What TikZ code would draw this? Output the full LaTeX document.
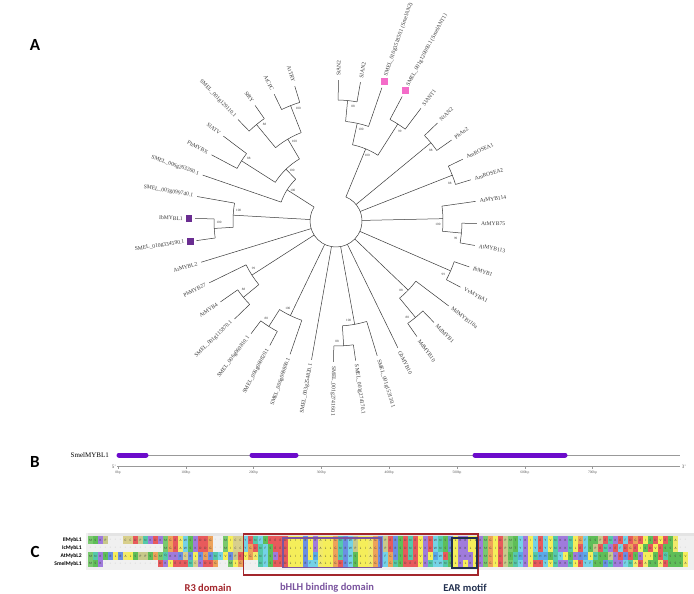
\documentclass[tikz,border=0pt]{standalone}
\usepackage{fontspec}
\setmainfont{Liberation Serif}
\newfontfamily\panelsans{Carlito}
\usepackage{tikz}
\usetikzlibrary{positioning}
\definecolor{TreeInk}{HTML}{3A3A3A}
\definecolor{AnthoPink}{HTML}{F46CC9}
\definecolor{RepPurple}{HTML}{6A2D91}
\definecolor{ExonViolet}{HTML}{6C0BCB}
\definecolor{R3Red}{HTML}{A3262C}
\definecolor{BhlhPurple}{HTML}{7B559F}
\definecolor{EarNavy}{HTML}{22304F}
\definecolor{AlnFrame}{HTML}{D9D9D9}
\definecolor{AlnRuler}{HTML}{E4E4E4}
% residue colours
\definecolor{aaA}{HTML}{F2EA6A}
\definecolor{aaV}{HTML}{F5EE5A}
\definecolor{aaI}{HTML}{F5EE5A}
\definecolor{aaL}{HTML}{F5EE5A}
\definecolor{aaM}{HTML}{79C96E}
\definecolor{aaF}{HTML}{74D2E6}
\definecolor{aaW}{HTML}{74D2E6}
\definecolor{aaY}{HTML}{74D2E6}
\definecolor{aaH}{HTML}{5AA9E8}
\definecolor{aaK}{HTML}{A07BDC}
\definecolor{aaR}{HTML}{6B8FE3}
\definecolor{aaD}{HTML}{E85A5C}
\definecolor{aaE}{HTML}{E85A5C}
\definecolor{aaS}{HTML}{5FBE58}
\definecolor{aaT}{HTML}{5FBE58}
\definecolor{aaN}{HTML}{55C9AA}
\definecolor{aaQ}{HTML}{55C9AA}
\definecolor{aaG}{HTML}{EDA25A}
\definecolor{aaP}{HTML}{C8C98A}
\definecolor{aaC}{HTML}{D8CF8C}

% tree helpers
\newcommand\leafR[4][145]{%
  \coordinate (#2) at (#3:141);
  \node[leaflbl,anchor=west,rotate=#3] (#2l) at (#3:#1) {#4};}
\newcommand\leafL[4][145]{%
  \coordinate (#2) at (#3:141);
  \node[leaflbl,anchor=east,rotate=#3+180] (#2l) at (#3:#1) {#4};}
\newcommand\cladearc[3]{\draw[branch] (#2:#1) arc[start angle=#2,end angle=#3,radius=#1pt];}
\newcommand\radial[3]{\draw[branch] (#1:#2) -- (#1:#3);}
\newcommand\bsv[4]{\node[bootlbl] (#1) at ({#2-3}:{#3-5}) {#4};}

% alignment helpers
\def\alngap{-}
\makeatletter
\newcommand\alnrow[3]{%
  \def\alncol{0}%
  \@tfor\alnres:=#3\do{%
    \alncell{#1}{#2}%
    \pgfmathtruncatemacro\alncol{\alncol+1}%
  }}
\makeatother
\newcommand\alncell[2]{%
  \ifx\alnres\alngap
    \node[gapcell] (r#1c\alncol) at ({90.5+5*\alncol},#2) {-};
  \else
    \edef\alnfill{aa\alnres}%
    \node[rescell,fill=\alnfill] (r#1c\alncol) at ({90.5+5*\alncol},#2) {\alnres};
  \fi}

\begin{document}
\begin{tikzpicture}[
  x=1pt,y=-1pt,
  branch/.style={draw=TreeInk,line width=.5pt},
  leaflbl/.style={font=\fontsize{5.6}{6}\selectfont,text=TreeInk,inner sep=0pt},
  bootlbl/.style={font=\fontsize{3.3}{3.5}\selectfont,text=TreeInk,inner sep=0pt},
  pinkmark/.style={fill=AnthoPink,minimum size=7pt,inner sep=0pt},
  purplemark/.style={fill=RepPurple,minimum size=6.5pt,inner sep=0pt},
  panellbl/.style={font=\panelsans\bfseries\fontsize{17}{18}\selectfont,inner sep=0pt},
  genelbl/.style={font=\fontsize{7}{8}\selectfont,inner sep=0pt},
  geneline/.style={draw=gray!80,line width=.6pt},
  exon/.style={draw=ExonViolet,line width=5pt,line cap=round},
  ticklbl/.style={font=\fontsize{3.6}{4}\selectfont,text=gray!70!black,inner sep=0pt},
  rowlbl/.style={font=\panelsans\bfseries\fontsize{5.6}{6}\selectfont,inner sep=0pt},
  rescell/.style={minimum width=5pt,minimum height=7.5pt,inner sep=0pt,
    font=\panelsans\fontsize{3.4}{3.5}\selectfont,text=black!75},
  gapcell/.style={minimum width=5pt,minimum height=7.5pt,inner sep=0pt,
    font=\panelsans\fontsize{3.4}{3.5}\selectfont,text=gray},
  domainbox/.style={line width=1.2pt},
  domainlbl/.style={font=\panelsans\bfseries\fontsize{10.5}{12}\selectfont,inner sep=0pt}
]
  \path[fill=white] (0,0) rectangle (694,594);
  \useasboundingbox (0,0) rectangle (694,594);

  \node[panellbl] (panelA) at (35,45) {A};
  \node[panellbl] (panelB) at (35,462) {B};
  \node[panellbl] (panelC) at (35,552) {C};

  % ---- A: circular tree
  \begin{scope}[shift={(336,221)},y=1pt]
    \leafR{atmyb75}{-1}{AtMYB75}
    \leafR{atmyb114}{8}{AtMYB114}
    \leafR{amrosea2}{17}{AmROSEA2}
    \leafR{amrosea1}{26}{AmROSEA1}
    \leafR{phan2}{35}{PhAn2}
    \leafR{ntan2}{44}{NtAN2}
    \leafR{slant1}{53}{SlANT1}
    \leafR[153]{smelant1}{62}{SMEL\_001g120000.1 (SmelANT1)}
    \leafR[153]{smelan2}{71}{SMEL\_010g351850.1 (SmelAN2)}
    \leafR{slan2}{80}{SlAN2}
    \leafR{stan2}{89}{StAN2}
    \leafL{attry}{107}{AtTRY}
    \leafL{atcpc}{116}{AtCPC}
    \leafL{stry}{125}{StRY}
    \leafL{smelry}{134}{SMEL\_001g129110.1}
    \leafL{slatv}{143}{SlATV}
    \leafL{phmybx}{152}{PhMYBX}
    \leafL{smelatv}{161}{SMEL\_006g263260.1}
    \leafL{smelmyb3}{170}{SMEL\_003g099740.1}
    \leafL[153]{ibmybl1}{179}{IbMYBL1}
    \leafL[153]{smelmybl1}{188}{SMEL\_010g334590.1}
    \leafL{atmybl2}{197}{AtMYBL2}
    \leafL{phmyb27}{206}{PhMYB27}
    \leafL{atmyb4}{215}{AtMYB4}
    \leafL{smelmyb4}{224}{SMEL\_001g115870.1}
    \leafL{smelsga}{233}{SMEL\_006g069810.1}
    \leafL{smelsgb}{242}{SMEL\_006g069820.1}
    \leafL{smelsgc}{251}{SMEL\_006g069800.1}
    \leafL{smelsgd}{260}{SMEL\_003g254820.1}
    \leafR{smelpapa}{269}{SMEL\_001g274160.1}
    \leafR{smelpapb}{278}{SMEL\_001g274170.1}
    \leafR{smelpapc}{287}{SMEL\_001g153130.1}
    \leafR{ghmyb10}{296}{GhMYB10}
    \leafR{mdmyb10}{305}{MdMYB10}
    \leafR{mdmyb1}{314}{MdMYB1}
    \leafR{mdmyb110a}{323}{MdMYB110a}
    \leafR{vvmyba1}{332}{VvMYBA1}
    \leafR{ibmyb1}{341}{IbMYB1}
    \leafR{atmyb113}{350}{AtMYB113}

    \node[pinkmark] (markant1) at (62:148) {};
    \node[pinkmark] (markan2) at (71:148) {};
    \node[purplemark] (markibl1) at (179:147) {};
    \node[purplemark] (marksmel) at (188:147) {};

    % subgroup 6
    \cladearc{126}{-10}{-1}
    \draw[branch] (-1:126) -- (atmyb75);
    \draw[branch] (-10:126) -- (atmyb113);
    \cladearc{107}{-5.5}{8}
    \radial{-5.5}{107}{126}
    \draw[branch] (8:107) -- (atmyb114);
    \radial{1.25}{26}{107}
    \cladearc{125}{17}{26}
    \draw[branch] (17:125) -- (amrosea2);
    \draw[branch] (26:125) -- (amrosea1);
    \radial{21.5}{26}{125}
    \cladearc{123}{35}{44}
    \draw[branch] (35:123) -- (phan2);
    \draw[branch] (44:123) -- (ntan2);
    \radial{39.5}{26}{123}
    \cladearc{121}{80}{89}
    \draw[branch] (80:121) -- (slan2);
    \draw[branch] (89:121) -- (stan2);
    \cladearc{100}{71}{84.5}
    \draw[branch] (71:100) -- (smelan2);
    \radial{84.5}{100}{121}
    \cladearc{115}{53}{62}
    \draw[branch] (53:115) -- (slant1);
    \draw[branch] (62:115) -- (smelant1);
    \cladearc{78}{57.5}{77.75}
    \radial{57.5}{78}{115}
    \radial{77.75}{78}{100}
    \radial{67.625}{26}{78}
    % TRY / CPC
    \cladearc{124}{107}{116}
    \draw[branch] (107:124) -- (attry);
    \draw[branch] (116:124) -- (atcpc);
    \cladearc{125}{125}{134}
    \draw[branch] (125:125) -- (stry);
    \draw[branch] (134:125) -- (smelry);
    \cladearc{95}{111.5}{129.5}
    \radial{111.5}{95}{124}
    \radial{129.5}{95}{125}
    \cladearc{112}{143}{152}
    \draw[branch] (143:112) -- (slatv);
    \draw[branch] (152:112) -- (phmybx);
    \cladearc{72}{120.5}{147.5}
    \radial{120.5}{72}{95}
    \radial{147.5}{72}{112}
    \cladearc{58}{134}{161}
    \radial{134}{58}{72}
    \draw[branch] (161:58) -- (smelatv);
    \radial{147.5}{26}{58}
    % MYBL
    \cladearc{122}{179}{188}
    \draw[branch] (179:122) -- (ibmybl1);
    \draw[branch] (188:122) -- (smelmybl1);
    \cladearc{103}{170}{183.5}
    \draw[branch] (170:103) -- (smelmyb3);
    \radial{183.5}{103}{122}
    \radial{176.75}{26}{103}
    \draw[branch] (197:26) -- (atmybl2);
    % subgroup 4
    \cladearc{120}{215}{224}
    \draw[branch] (215:120) -- (atmyb4);
    \draw[branch] (224:120) -- (smelmyb4);
    \cladearc{100}{206}{219.5}
    \draw[branch] (206:100) -- (phmyb27);
    \radial{219.5}{100}{120}
    \radial{212.75}{26}{100}
    \cladearc{125}{233}{242}
    \draw[branch] (233:125) -- (smelsga);
    \draw[branch] (242:125) -- (smelsgb);
    \cladearc{105}{237.5}{251}
    \radial{237.5}{105}{125}
    \draw[branch] (251:105) -- (smelsgc);
    \radial{244.25}{26}{105}
    \draw[branch] (260:26) -- (smelsgd);
    % PAP-like
    \cladearc{125}{269}{278}
    \draw[branch] (269:125) -- (smelpapa);
    \draw[branch] (278:125) -- (smelpapb);
    \cladearc{105}{273.5}{287}
    \radial{273.5}{105}{125}
    \draw[branch] (287:105) -- (smelpapc);
    \radial{280.25}{26}{105}
    \draw[branch] (296:26) -- (ghmyb10);
    \cladearc{125}{305}{314}
    \draw[branch] (305:125) -- (mdmyb10);
    \draw[branch] (314:125) -- (mdmyb1);
    \cladearc{100}{309.5}{323}
    \radial{309.5}{100}{125}
    \draw[branch] (323:100) -- (mdmyb110a);
    \radial{316.25}{26}{100}
    \cladearc{125}{332}{341}
    \draw[branch] (332:125) -- (vvmyba1);
    \draw[branch] (341:125) -- (ibmyb1);
    \radial{336.5}{26}{125}
    % root
    \cladearc{26}{147.5}{427.625}

    \bsv{bs1}{-5.5}{126}{99}
    \bsv{bs2}{1.25}{107}{100}
    \bsv{bs3}{21.5}{125}{88}
    \bsv{bs4}{39.5}{123}{88}
    \bsv{bs5}{84.5}{121}{88}
    \bsv{bs6}{77.75}{100}{100}
    \bsv{bs7}{57.5}{115}{99}
    \bsv{bs8}{67.625}{78}{100}
    \bsv{bs9}{111.5}{124}{100}
    \bsv{bs10}{129.5}{125}{88}
    \bsv{bs11}{120.5}{95}{100}
    \bsv{bs12}{147.5}{112}{88}
    \bsv{bs13}{134}{72}{100}
    \bsv{bs14}{147.5}{58}{100}
    \bsv{bs15}{183.5}{122}{100}
    \bsv{bs16}{176.75}{103}{100}
    \bsv{bs17}{219.5}{120}{88}
    \bsv{bs18}{212.75}{100}{99}
    \bsv{bs19}{237.5}{125}{88}
    \bsv{bs20}{244.25}{105}{100}
    \bsv{bs21}{273.5}{125}{88}
    \bsv{bs22}{280.25}{105}{100}
    \bsv{bs23}{309.5}{125}{88}
    \bsv{bs24}{316.25}{100}{88}
    \bsv{bs25}{336.5}{125}{99}
  \end{scope}

  % ---- B: gene structure
  \coordinate (gstart) at (117,455);
  \coordinate (gend) at (680,455);
  \node[genelbl,left=8pt of gstart] (genename) {SmelMYBL1};
  \draw[geneline] (gstart) -- (gend);
  \draw[exon] (119,455) -- (146,455);
  \draw[exon] (252,455) -- (296,455);
  \draw[exon] (475,455) -- (565,455);
  \draw[geneline,line width=.4pt] (117,466) -- (680,466);
  \foreach \k/\t in {0/0bp,1/100bp,2/200bp,3/300bp,4/400bp,5/500bp,6/600bp,7/700bp}{
    \draw[geneline,line width=.4pt] (118+67.8*\k,466) -- ++(0,2.5);
    \node[ticklbl] (tick\k) at (118+67.8*\k,473) {\t};
  }
  \node[ticklbl,font=\fontsize{5}{5}\selectfont] (fiveend) at (114,467) {5'};
  \node[ticklbl,font=\fontsize{5}{5}\selectfont] (threeend) at (684,467) {3'};

  % ---- C: alignment
  \fill[AlnFrame!40] (86,533) rectangle (694,570);
  \fill[AlnRuler] (88,533) rectangle (694,536);
  \alnrow{1}{540}{MSKP---CCDPNKDKMGEAWSKDDG--MICCYDNFSEEEDLIIRLKALLGNRWPLIAGRPERSDNEVKDWNSRLKKLLKMGIDPMTYKIYEYVNKKNLGFSSPENKEFDGEISDVESA--}
  \alnrow{2}{548}{---------------MGEAWSKDDG--MICCYGDNFSEEDLIIRLKALLGNRWPLIAGRPERSDNEVKDWNSRLKKLLKMGIDPMTYKIYEYVNKKNLEFSPENKEFDGEISDVESSA--}
  \alnrow{3}{556}{MNKTRLRALSPPSGMQKKRCRLRGRNYVRPEVGANFSKDDLIIRLHALLGNRWSLIAGRFGRTDNEVKIHWETLKKKLKMGIDPTNHKLNHHTNYISKRHLNSSPKERETKIISDQSSSV}
  \alnrow{4}{563.5}{MSK-----------DKIEEDNCKDDG--MLG---NFSEEDLIIRFYALLGDRWSLIAGRFGNSDEEVKNYWNSLKLKLKMGIDPMNYKIDEYVNKKNLEYFSSRNKKFNADASSAESSSA}
  \node[rowlbl,anchor=east,left=6pt of r1c0] (lblIl) {IlMybL1};
  \node[rowlbl,anchor=east,left=6pt of r2c0] (lblIc) {IcMybL1};
  \node[rowlbl,anchor=east,left=6pt of r3c0] (lblAt) {AtMybL2};
  \node[rowlbl,anchor=east,left=6pt of r4c0] (lblSm) {SmelMybL1};

  \draw[domainbox,draw=R3Red] (243.5,534) rectangle (478,575);
  \draw[domainbox,draw=BhlhPurple] (283,538) rectangle (381,567.5);
  \draw[domainbox,draw=EarNavy] (452,538) rectangle (477,568);
  \node[domainlbl,text=R3Red] (r3lbl) at (208,588) {R3 domain};
  \node[domainlbl,text=BhlhPurple] (bhlhlbl) at (327,588) {bHLH binding domain};
  \node[domainlbl,text=EarNavy] (earlbl) at (465,588) {EAR motif};
\end{tikzpicture}
\end{document}
